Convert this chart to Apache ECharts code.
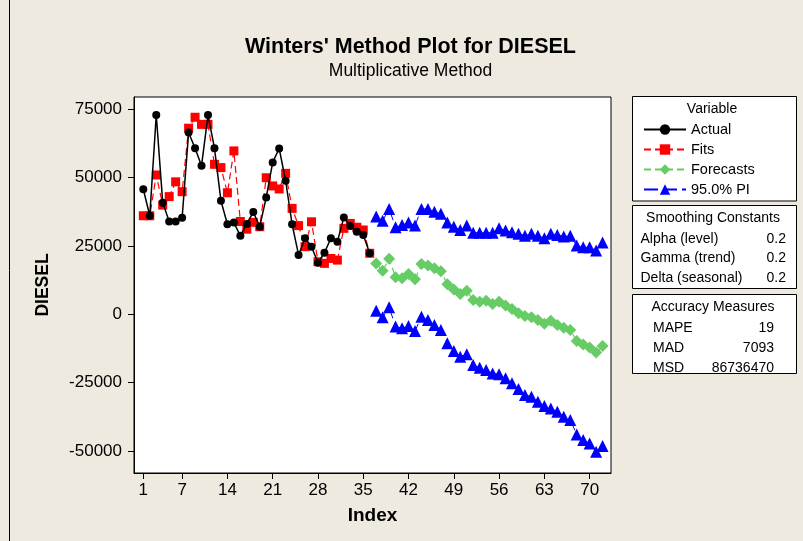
<!DOCTYPE html>
<html><head><meta charset="utf-8">
<script src="https://cdn.jsdelivr.net/npm/echarts@6/dist/echarts.min.js"></script>
<style>html,body{margin:0;padding:0;background:#EEEAE0;}#c{width:803px;height:541px;}</style>
</head><body><div id="c"></div>
<script>
const actualIdx = [];
for (let i = 1; i <= 36; i++) actualIdx.push(i);
const forecastIdx = [];
for (let i = 37; i <= 72; i++) forecastIdx.push(i);

const actual = [45700, 36000, 72800, 40800, 33900, 33900, 35300, 66400, 60700, 54300, 72800, 60700,
  41500, 32900, 33500, 28700, 33000, 37400, 32000, 42700, 55500, 60600, 48800, 32900,
  21700, 27800, 24700, 18800, 22500, 27800, 26500, 35400, 32300, 30200, 29000, 22300];
const fits = [36000, 36000, 50900, 39900, 43000, 48400, 44800, 68000, 72000, 69400, 69400, 54800,
  53600, 44400, 59700, 33900, 31100, 33600, 32000, 49900, 46900, 45800, 51500, 38700,
  32400, 24700, 33800, 19200, 18600, 20400, 19800, 31400, 33200, 31800, 30800, 22300];
const forecasts = [18600, 15900, 20300, 13500, 13200, 14700, 12800, 18400, 17800, 16800, 15700, 11000,
  9100, 7400, 8600, 5200, 4600, 4900, 3800, 4600, 3200, 1900, 400, -600,
  -1100, -2100, -3500, -2400, -3900, -4900, -5700, -9800, -11000, -12100, -14000, -11600];
const piUpper = [35700, 34200, 38500, 31800, 32600, 33500, 32400, 38500, 38500, 37500, 36700, 33500,
  32000, 30800, 32400, 29800, 29800, 29800, 29800, 31400, 30600, 30000, 29400, 28700,
  29400, 28700, 27800, 29400, 29000, 28400, 28700, 25100, 24500, 24500, 23300, 26200];
const piLower = [1300, -1100, 2600, -4500, -5100, -4300, -6100, -900, -2100, -3900, -5700, -10600,
  -13400, -15500, -14600, -18500, -19500, -20400, -21600, -21900, -23400, -25200, -27300, -29500,
  -30100, -32000, -33500, -34400, -35600, -37400, -38600, -43900, -45900, -47200, -50200, -48100];

const xTicks = [1, 7, 14, 21, 28, 35, 42, 49, 56, 63, 70];
const yTicks = [-50000, -25000, 0, 25000, 50000, 75000];

const smoothing = [["Alpha (level)", "0.2"], ["Gamma (trend)", "0.2"], ["Delta (seasonal)", "0.2"]];
const accuracy = [["MAPE", "19"], ["MAD", "7093"], ["MSD", "86736470"]];

const FONT = "'Liberation Sans', Arial, sans-serif";
const pair = (xs, ys) => xs.map((x, i) => [x, ys[i]]);

const graphic = [];
function txt(text, x, y, size, opts) {
  opts = opts || {};
  graphic.push({
    type: 'text', z: 20,
    style: {
      text: text, x: x, y: y,
      font: (opts.bold ? 'bold ' : '') + size + 'px ' + FONT,
      fill: '#000',
      align: opts.align || 'left', textAlign: opts.align || 'left',
      verticalAlign: 'middle', textVerticalAlign: 'middle'
    }
  });
}
function box(x, y, w, h) {
  graphic.push({ type: 'rect', z: 1, shape: { x: x, y: y, width: w, height: h },
    style: { fill: '#fff', stroke: '#000', lineWidth: 1 } });
}
graphic.push({ type: 'line', z: 1, shape: { x1: 9.5, y1: 0, x2: 9.5, y2: 541 }, style: { stroke: '#000', lineWidth: 1 } });

txt("Winters' Method Plot for DIESEL", 410.5, 47, 21.5, { bold: true, align: 'center' });
txt("Multiplicative Method", 410.5, 71.5, 17.5, { align: 'center' });

box(632.5, 96.5, 164, 104.5);
txt("Variable", 712, 109, 14, { align: 'center' });

box(632.5, 205.5, 164, 83);
txt("Smoothing Constants", 713, 218.5, 14, { align: 'center' });
smoothing.forEach((r, i) => {
  txt(r[0], 640.5, 239 + i * 19.4, 14);
  txt(r[1], 786, 239 + i * 19.4, 14, { align: 'right' });
});

box(632.5, 294.5, 164, 79);
txt("Accuracy Measures", 713, 307.5, 14, { align: 'center' });
accuracy.forEach((r, i) => {
  txt(r[0], 653, 327.7 + i * 20.3, 14);
  txt(r[1], 774, 327.7 + i * 20.3, 14, { align: 'right' });
});

const chart = echarts.init(document.getElementById('c'), null, { renderer: 'canvas' });
chart.setOption({
  backgroundColor: '#EEEAE0',
  animation: false,
  textStyle: { fontFamily: FONT },
  grid: { left: 134, top: 97, width: 477, height: 376, show: true, backgroundColor: '#fff',
    borderColor: '#000', borderWidth: 1, containLabel: false },
  legend: {
    orient: 'vertical', left: 638, top: 117, z: 30,
    itemWidth: 42, itemHeight: 13, itemGap: 5,
    textStyle: { fontSize: 14.5, color: '#000', fontFamily: FONT },
    data: ['Actual', 'Fits', 'Forecasts', '95.0% PI']
  },
  xAxis: {
    type: 'value', min: -0.44, max: 73.3,
    name: 'Index', nameLocation: 'middle', nameGap: 33,
    nameTextStyle: { fontSize: 19, fontWeight: 'bold', color: '#000', fontFamily: FONT },
    axisLine: { show: true, onZero: false, lineStyle: { color: '#000', width: 1 } },
    axisTick: { show: true, length: 6, lineStyle: { color: '#000' }, customValues: xTicks },
    axisLabel: { fontSize: 17, color: '#000', margin: 9, customValues: xTicks, fontFamily: FONT },
    splitLine: { show: false }
  },
  yAxis: {
    type: 'value', min: -58000, max: 79400,
    name: 'DIESEL', nameLocation: 'middle', nameGap: 82, nameRotate: 90,
    nameTextStyle: { fontSize: 17.5, fontWeight: 'bold', color: '#000', fontFamily: FONT },
    axisLine: { show: true, onZero: false, lineStyle: { color: '#000', width: 1 } },
    axisTick: { show: true, length: 6, lineStyle: { color: '#000' }, customValues: yTicks },
    axisLabel: { fontSize: 17, color: '#000', margin: 12, customValues: yTicks, fontFamily: FONT,
      formatter: v => String(v) },
    splitLine: { show: false }
  },
  graphic: graphic,
  series: [
    { name: 'Actual', type: 'line', data: pair(actualIdx, actual), symbol: 'circle', symbolSize: 8,
      itemStyle: { color: '#000' }, lineStyle: { color: '#000', width: 1.5 }, z: 5 },
    { name: 'Fits', type: 'line', data: pair(actualIdx, fits), symbol: 'rect', symbolSize: 9,
      itemStyle: { color: '#FF0000' }, lineStyle: { color: '#FF0000', width: 1.2, type: [7, 4] }, z: 4 },
    { name: 'Forecasts', type: 'line', data: pair(forecastIdx, forecasts), symbol: 'diamond', symbolSize: 12,
      itemStyle: { color: '#66CC66' }, lineStyle: { color: '#66CC66', width: 1.2, type: [7, 4] }, z: 4 },
    { name: '95.0% PI', type: 'line', data: pair(forecastIdx, piUpper), symbol: 'triangle', symbolSize: 12,
      itemStyle: { color: '#0000FF' }, lineStyle: { color: '#0000FF', width: 1, type: [14, 5] }, z: 4 },
    { name: '95.0% PI', type: 'line', data: pair(forecastIdx, piLower), symbol: 'triangle', symbolSize: 12,
      itemStyle: { color: '#0000FF' }, lineStyle: { color: '#0000FF', width: 1, type: [14, 5] }, z: 4 }
  ]
});
</script>
</body></html>
